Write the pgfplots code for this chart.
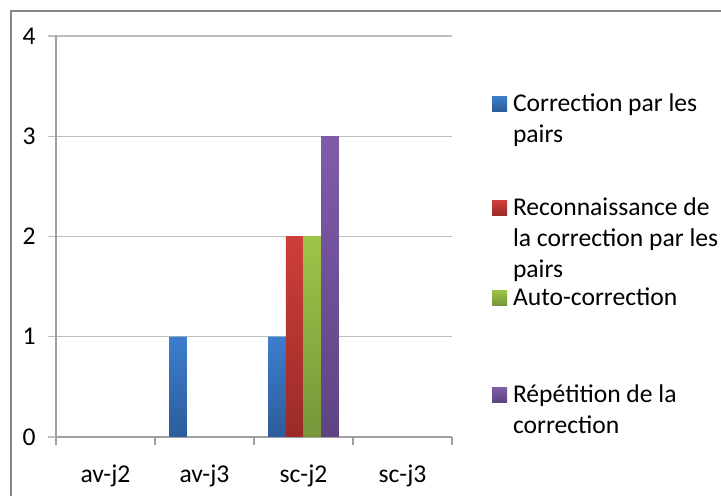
\documentclass[border=0pt]{standalone}
\usepackage{fontspec}
\setmainfont{Carlito}
\usepackage{pgfplots}
\pgfplotsset{compat=1.18}
\definecolor{gridc}{RGB}{190,190,190}
\definecolor{axc}{RGB}{160,160,160}
\definecolor{framec}{RGB}{134,134,134}
\definecolor{bluet}{RGB}{61,125,204}
\definecolor{blueb}{RGB}{44,93,156}
\definecolor{redt}{RGB}{205,62,58}
\definecolor{redb}{RGB}{155,43,40}
\definecolor{greent}{RGB}{157,197,72}
\definecolor{greenb}{RGB}{118,150,58}
\definecolor{purplet}{RGB}{128,91,170}
\definecolor{purpleb}{RGB}{94,68,131}
\newcommand{\lfont}{\fontsize{12.8}{15.5}\selectfont}
\pgfplotsset{
  sqimg/.style={legend image code/.code={%
    \fill[##1] (0pt,0pt) rectangle (7.5pt,7.5pt);
    \path (0pt,10.85pt) -- (0pt,-#1);}}
}
\begin{document}
\lfont
\begin{tikzpicture}
\useasboundingbox (0,0) rectangle (360.5pt,248pt);
\draw[line width=1pt, framec] (5.5pt,-1pt) -- (5.5pt,242.5pt) -- (361.5pt,242.5pt);
\begin{axis}[
 at={(28pt,29.5pt)}, anchor=south west,
 scale only axis, width=198pt, height=200.5pt,
 xmin=-0.5, xmax=3.5, ymin=0, ymax=4,
 axis x line*=bottom, axis y line*=left,
 axis line style={draw=axc, line width=0.6pt, -},
 xtick={0,1,2,3}, xticklabels={av-j2,av-j3,sc-j2,sc-j3},
 minor xtick={-0.5,0.5,1.5,2.5,3.5},
 ytick={0,1,2,3,4},
 tick align=outside,
 major tick length=4pt, minor tick length=4pt,
 major x tick style={draw=none},
 minor x tick style={draw=axc, line width=0.6pt},
 major y tick style={draw=gridc, line width=0.6pt},
 ymajorgrids, grid style={draw=gridc, line width=0.6pt},
 ticklabel style={font=\lfont},
 /pgf/number format/assume math mode=true,
 xticklabel style={anchor=base, yshift=-19pt},
 yticklabel style={anchor=east, inner sep=0pt, xshift=-6pt},
 bar width=0.179,
 legend style={draw=none, fill=none, inner sep=0pt, outer sep=0pt,
   at={(1.101,0.867)}, anchor=north west,
   font=\lfont, cells={anchor=base west},
   nodes={inner sep=0pt, outer sep=0pt},
   column sep=3pt, row sep=0pt},
]
\addplot[ybar, bar shift=-0.2685, draw=none, top color=bluet, bottom color=blueb, sqimg=41.15pt]
  coordinates {(1,1) (2,1)};
\addlegendentry{\parbox[t]{120pt}{\strut Correction par les\\pairs}}
\addplot[ybar, bar shift=-0.0895, draw=none, top color=redt, bottom color=redb, sqimg=34.15pt]
  coordinates {(2,2)};
\addlegendentry{\parbox[t]{120pt}{\strut Reconnaissance de\\la correction par les\\pairs}}
\addplot[ybar, bar shift=0.0895, draw=none, top color=greent, bottom color=greenb, sqimg=37.65pt]
  coordinates {(2,2)};
\addlegendentry{\parbox[t]{120pt}{\strut Auto-correction}}
\addplot[ybar, bar shift=0.2685, draw=none, top color=purplet, bottom color=purpleb, sqimg=20pt]
  coordinates {(2,3)};
\addlegendentry{\parbox[t]{120pt}{\strut Répétition de la\\correction}}
\end{axis}
\end{tikzpicture}
\end{document}
